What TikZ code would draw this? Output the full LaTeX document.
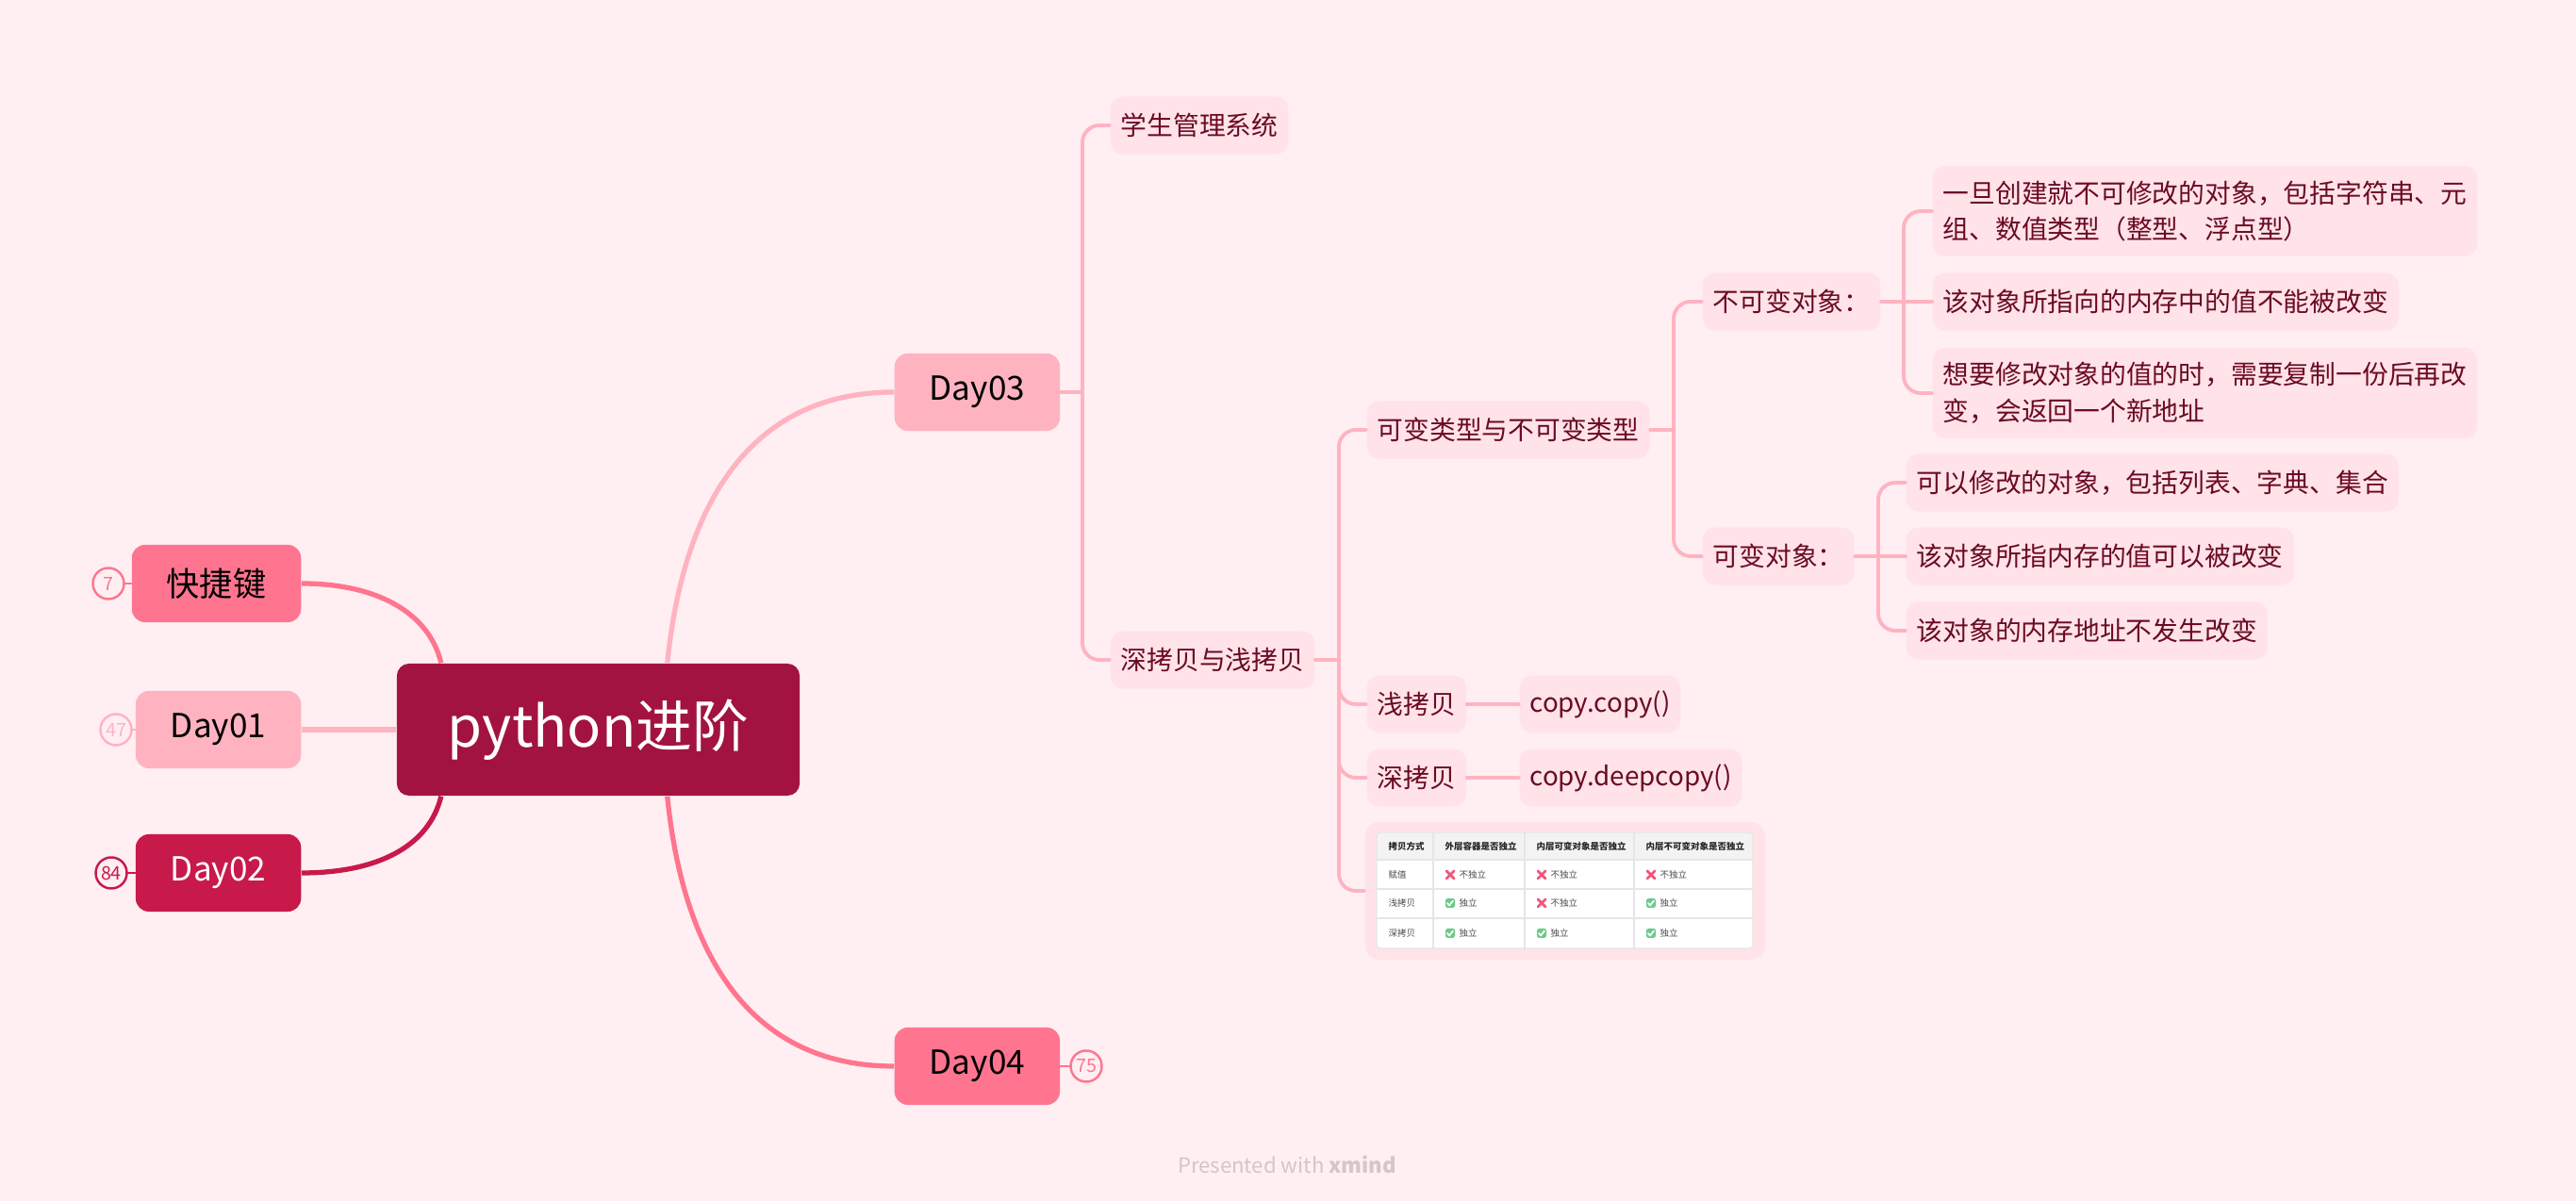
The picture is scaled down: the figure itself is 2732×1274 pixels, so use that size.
\documentclass[tikz,border=0pt]{standalone}
\usepackage{fontspec}
\setmainfont{Noto Sans CJK SC}
\usetikzlibrary{positioning}
\definecolor{bgpink}{HTML}{FFEFF2}
\definecolor{rootred}{HTML}{A31340}
\definecolor{daymid}{HTML}{FF7590}
\definecolor{daylight}{HTML}{FFB3C1}
\definecolor{daydark}{HTML}{C8194B}
\definecolor{subfill}{HTML}{FFE3E8}
\definecolor{subtext}{HTML}{6B0A24}
\definecolor{headgray}{HTML}{F3F3F3}
\definecolor{gridgray}{HTML}{E6E6E6}
\definecolor{xred}{HTML}{F2557A}
\definecolor{okgreen}{HTML}{6CCB8A}
\definecolor{footgray}{HTML}{D6C4C8}
\begin{document}
\begin{tikzpicture}[x=0.01cm,y=-0.01cm,line join=round,line cap=round,
		rootbox/.style={fill=rootred,text=white,rounded corners=0.13cm,minimum width=4.27cm,minimum height=1.4cm,font=\fontsize{17}{20}\selectfont},
		daybox/.style={rounded corners=0.14cm,inner xsep=0.37cm,minimum height=0.82cm,font=\fontsize{10}{12}\selectfont},
		subbox/.style={fill=subfill,text=subtext,rounded corners=0.13cm,inner xsep=0.11cm,inner ysep=0.155cm,minimum height=0.61cm,align=left,font=\fontsize{7.9}{11}\selectfont},
		badge/.style={circle,draw=#1,text=#1,fill=bgpink,line width=0.7pt,inner sep=0pt,minimum size=0.33cm,font=\fontsize{5.6}{6}\selectfont},
		mainline/.style={line width=1.5pt,line cap=butt},
		subline/.style={daylight,line width=1.1pt,rounded corners=0.18cm},
		thead/.style={anchor=west,inner sep=0pt,text=black!85,font=\fontsize{2.7}{3}\selectfont\bfseries},
		tcell/.style={anchor=west,inner sep=0pt,text=black!70,font=\fontsize{2.7}{3}\selectfont}]
	\fill[bgpink] (0,0) rectangle (2732,1274);
	\node[rootbox] (root) at (634.5,774) {python进阶};
	\node[daybox,fill=daymid,anchor=east] (kjj) at (320,619) {快捷键};
	\node[daybox,fill=daylight,anchor=east] (day1) at (320,774) {Day01};
	\node[daybox,fill=daydark,text=white,anchor=east] (day2) at (320,926) {Day02};
	\node[daybox,fill=daylight,anchor=west] (day3) at (948,416) {Day03};
	\node[daybox,fill=daymid,anchor=west] (day4) at (948,1131) {Day04};
	\node[badge=daymid] (b7) at (115,619) {7};
	\node[badge=daylight] (b47) at (123,774) {47};
	\node[badge=daydark] (b84) at (118,926) {84};
	\node[badge=daymid] (b75) at (1152,1131) {75};
	\draw[daymid,line width=0.8pt] (b7) -- (kjj);
	\draw[daylight,line width=0.8pt] (b47) -- (day1);
	\draw[daydark,line width=0.8pt] (b84) -- (day2);
	\draw[daymid,line width=0.8pt] (day4) -- (b75);
	\draw[mainline,daymid] (root.157) .. controls (455,650) and (400,619) .. (kjj.east);
	\draw[mainline,daylight] (root.west) -- (day1.east);
	\draw[mainline,daydark] (root.203) .. controls (455,898) and (400,926) .. (day2.east);
	\draw[mainline,daylight] (root.44) .. controls (722,560) and (780,416) .. (day3.west);
	\draw[mainline,daymid] (root.316) .. controls (722,988) and (780,1131) .. (day4.west);

	\coordinate (t3) at (1148,416);
	\node[subbox,anchor=west] (xsgl) at (1177,133) {学生管理系统};
	\node[subbox,anchor=west] (skqk) at (1177,700) {深拷贝与浅拷贝};
	\draw[subline] (day3.east) -- (t3);
	\foreach \n in {xsgl,skqk} \draw[subline] (t3) |- (\n.west);

	\coordinate (t5) at (1420,700);
	\node[subbox,anchor=west] (kblx) at (1449,456) {可变类型与不可变类型};
	\node[subbox,anchor=west] (qkb) at (1449,747) {浅拷贝};
	\node[subbox,anchor=west] (skb) at (1449,825) {深拷贝};
	\node[subbox,right=0.55cm of qkb] (cpy) {copy.copy()};
	\node[subbox,right=0.55cm of skb] (dcpy) {copy.deepcopy()};
	\node[fill=subfill,rounded corners=0.15cm,minimum width=4.24cm,minimum height=1.46cm] (tbl) at (1660,945) {};
	\draw[subline] (skqk.east) -- (t5);
	\foreach \n in {kblx,qkb,skb,tbl} \draw[subline] (t5) |- (\n.west);
	\draw[subline] (qkb) -- (cpy);
	\draw[subline] (skb) -- (dcpy);

	\coordinate (t6) at (1775,456);
	\node[subbox,anchor=west] (bkb) at (1805,320) {不可变对象：};
	\node[subbox,anchor=west] (kbdx) at (1805,590) {可变对象：};
	\draw[subline] (kblx.east) -- (t6);
	\foreach \n in {bkb,kbdx} \draw[subline] (t6) |- (\n.west);

	\coordinate (t7) at (2019,320);
	\node[subbox,anchor=west] (bk1) at (2049,224) {一旦创建就不可修改的对象，包括字符串、元\\组、数值类型（整型、浮点型）};
	\node[subbox,anchor=west] (bk2) at (2049,320) {该对象所指向的内存中的值不能被改变};
	\node[subbox,anchor=west] (bk3) at (2049,417) {想要修改对象的值的时，需要复制一份后再改\\变，会返回一个新地址};
	\draw[subline] (bkb.east) -- (t7) -- (bk2.west);
	\foreach \n in {bk1,bk3} \draw[subline] (t7) |- (\n.west);

	\coordinate (t8) at (1992,590);
	\node[subbox,anchor=west] (kb1) at (2021,512) {可以修改的对象，包括列表、字典、集合};
	\node[subbox,anchor=west] (kb2) at (2021,590) {该对象所指内存的值可以被改变};
	\node[subbox,anchor=west] (kb3) at (2021,669) {该对象的内存地址不发生改变};
	\draw[subline] (kbdx.east) -- (t8) -- (kb2.west);
	\foreach \n in {kb1,kb3} \draw[subline] (t8) |- (\n.west);

	\fill[white,rounded corners=0.04cm] (1460,883) rectangle (1859,1006);
	\fill[headgray,rounded corners=0.04cm] (1460,883) rectangle (1859,912);
	\foreach \y in {912,943,974} \draw[gridgray,line width=0.3pt] (1460,\y) -- (1859,\y);
	\foreach \x in {1520,1617,1733} \draw[gridgray,line width=0.3pt] (\x,883) -- (\x,1006);
	\draw[gridgray,line width=0.3pt,rounded corners=0.04cm] (1460,883) rectangle (1859,1006);
	\foreach \x/\t in {1472/拷贝方式,1532/外层容器是否独立,1629/内层可变对象是否独立,1745/内层不可变对象是否独立}
		\node[thead] (h\x) at (\x,897.5) {\t};
	\foreach \y/\t in {928/赋值,958/浅拷贝,990/深拷贝}
		\node[tcell] (r\y) at (1472,\y) {\t};
	\foreach \x/\y in {1538/928,1635/928,1751/928,1635/958}
		\draw[xred,line width=0.8pt] (\x-4,\y-4) -- (\x+4,\y+4) (\x-4,\y+4) -- (\x+4,\y-4);
	\foreach \x/\y in {1538/958,1751/958,1538/990,1635/990,1751/990} {
		\fill[okgreen,rounded corners=0.5pt] (\x-5,\y-5) rectangle (\x+5,\y+5);
		\draw[white,line width=0.5pt] (\x-3,\y) -- (\x-1,\y+2.5) -- (\x+3,\y-2.5);
	}
	\foreach \x/\y/\t in {1547/928/不独立,1644/928/不独立,1760/928/不独立,1547/958/独立,1644/958/不独立,1760/958/独立,1547/990/独立,1644/990/独立,1760/990/独立}
		\node[tcell] (c\x-\y) at (\x,\y) {\t};

	\node[text=footgray,font=\fontsize{6.3}{7}\selectfont] (foot) at (1365,1235) {Presented with \textbf{xmind}};
\end{tikzpicture}
\end{document}
